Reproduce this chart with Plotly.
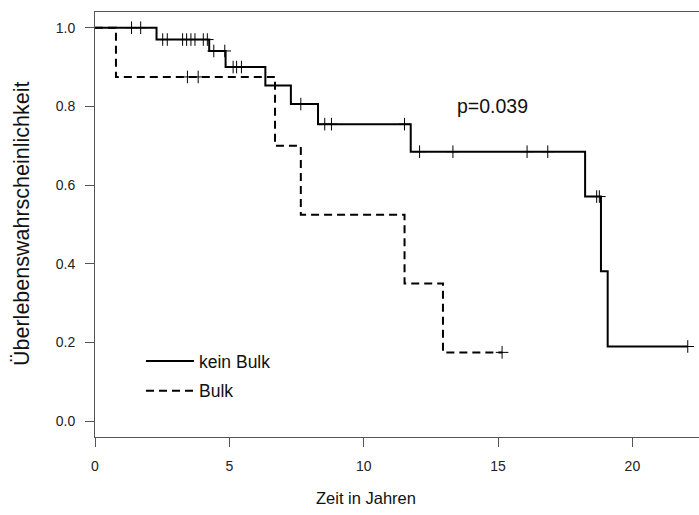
import plotly.graph_objects as go
import bisect

# --- data ---
kein_times = [0, 2.29, 4.25, 4.86, 6.34, 7.29, 8.30, 11.75, 18.24, 18.83, 19.08, 22.06]
kein_surv = [1.0, 0.970, 0.941, 0.900, 0.853, 0.806, 0.755, 0.685, 0.571, 0.381, 0.190, 0.190]
kein_censor = [1.36, 1.70, 2.52, 2.69, 3.26, 3.41, 3.57, 3.72, 4.03, 4.18, 4.42, 4.83,
               5.14, 5.27, 5.45, 7.66, 8.55, 8.80, 11.52, 12.08, 13.32, 16.08, 16.85,
               18.67, 18.77, 22.06]

bulk_times = [0, 0.78, 6.70, 7.66, 11.52, 12.95, 15.15]
bulk_surv = [1.0, 0.875, 0.700, 0.525, 0.350, 0.175, 0.175]
bulk_censor = [3.44, 3.84, 15.15]

x_ticks = [0, 5, 10, 15, 20]
y_ticks = [0.0, 0.2, 0.4, 0.6, 0.8, 1.0]


def surv_at(times, surv, t):
    i = bisect.bisect_right(times, t) - 1
    return surv[max(i, 0)]


fig = go.Figure()

fig.add_trace(go.Scatter(x=kein_times, y=kein_surv, mode="lines", line_shape="hv",
                         line=dict(color="black", width=2), name="kein Bulk",
                         legendgroup="a"))
fig.add_trace(go.Scatter(x=bulk_times, y=bulk_surv, mode="lines", line_shape="hv",
                         line=dict(color="black", width=2, dash="8px,5px"), name="Bulk",
                         legendgroup="b"))

for times, surv, cens in [(kein_times, kein_surv, kein_censor), (bulk_times, bulk_surv, bulk_censor)]:
    fig.add_trace(go.Scatter(x=cens, y=[surv_at(times, surv, t) for t in cens], mode="markers",
                             marker=dict(symbol="cross-thin", size=9,
                                         line=dict(color="black", width=1)),
                             showlegend=False, hoverinfo="skip"))

font = "Liberation Sans, Arial, sans-serif"
W, H = 699, 515
L, T, B = 95, 12, 78
PW = W - L
PH = H - T - B

fig.update_layout(
    width=W, height=H,
    margin=dict(l=L, r=0, t=T, b=B),
    paper_bgcolor="white", plot_bgcolor="white",
    font=dict(family=font, size=14, color="#222"),
    showlegend=True,
    legend=dict(x=(141 - L) / PW, y=(437 - 343) / PH, xanchor="left", yanchor="top",
                font=dict(size=17.5, color="#111"), bgcolor="rgba(0,0,0,0)",
                traceorder="grouped", tracegroupgap=4, itemwidth=48),
    xaxis=dict(range=[0, (W - L) / 26.87], tickvals=x_ticks, ticks="outside", ticklen=9,
               tickcolor="#555", showline=True, linecolor="#555", linewidth=1, mirror=True,
               showgrid=False, zeroline=False, tickfont=dict(size=14, color="#222"),
               ticklabelstandoff=7),
    yaxis=dict(range=[-0.04, 1.04], tickvals=y_ticks, tickformat=".1f", ticks="outside",
               ticklen=9, tickcolor="#555", showline=True, linecolor="#555", linewidth=1,
               mirror=False, showgrid=False, zeroline=False, tickfont=dict(size=14, color="#222"),
               ticklabelstandoff=7),
    annotations=[
        dict(text="Zeit in Jahren", xref="paper", yref="paper", x=(366 - L) / PW,
             y=-(498 - 437) / PH, xanchor="center", yanchor="middle", showarrow=False,
             font=dict(size=16.5, color="#111")),
        dict(text="Überlebenswahrscheinlichkeit", xref="paper", yref="paper",
             x=-(L - 22) / PW, y=(437 - 224) / PH, textangle=-90, xanchor="center",
             yanchor="middle", showarrow=False, font=dict(size=21.5, color="#111")),
        dict(text="p=0.039", x=14.8, y=0.80, xref="x", yref="y", showarrow=False,
             font=dict(size=19.5, color="#111")),
    ],
)

fig.write_html("out.html", config={"displayModeBar": False},
               post_script="document.body.style.margin='0';document.body.style.overflow='hidden';")
